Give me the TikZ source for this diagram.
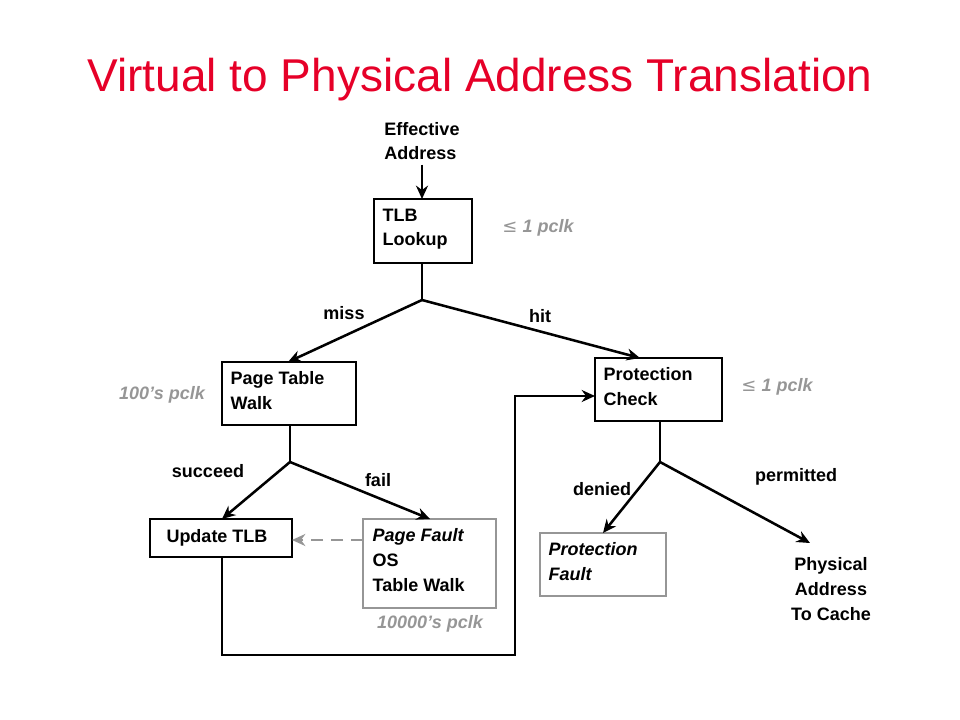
\documentclass[tikz,border=0pt]{standalone}
\usepackage{fontspec}
\setmainfont{Liberation Sans}
\newfontfamily\dv{DejaVu Sans}
\usetikzlibrary{arrows.meta}
\definecolor{tred}{RGB}{230,0,40}
\definecolor{gr}{RGB}{150,150,150}
\begin{document}
\begin{tikzpicture}[x=0.75pt,y=-0.75pt,
 box/.style={draw,line width=1.9pt,anchor=north west,inner sep=0pt},
 tx/.style={font=\bfseries\fontsize{13.5}{18.5}\selectfont,align=left},
 note/.style={font=\bfseries\itshape\fontsize{13.5}{18.5}\selectfont,text=gr},
 ln/.style={line width=1.9pt},
 ar/.style={ln,-{Stealth[length=10pt,width=9pt]}}]
\useasboundingbox (0,0) rectangle (960,720);
\node[text=tred,font=\fontsize{34.5}{40}\selectfont] (title) at (480,80) {Virtual to Physical Address Translation};
\node[tx] (ea) at (422,141) {Effective\\Address};
\draw[box] (374,199) rectangle (472,263);
\node[tx,anchor=north west] at (378,204) {TLB\\Lookup};
\coordinate (tlbt) at (422,199); \coordinate (tlbb) at (422,263);
\draw[box] (222,362) rectangle (356,425);
\node[tx,anchor=north west] at (226,367) {Page Table\\Walk};
\draw[box] (595,358) rectangle (722,421);
\node[tx,anchor=north west] at (599,363) {Protection\\Check};
\draw[box] (150,519) rectangle (292,557);
\node[tx] at (217,538) {Update TLB};
\draw[box,draw=gr] (363,519) rectangle (496,608);
\node[tx,anchor=north west] at (368,524) {\itshape Page Fault\\OS\\Table Walk};
\draw[box,draw=gr] (540,533) rectangle (666,596);
\node[tx,anchor=north west] at (544,538) {\itshape Protection\\\itshape Fault};
\node[tx,align=center] (pa) at (831,589) {Physical\\Address\\To Cache};
\coordinate (b1) at (422,300); \coordinate (b2) at (290,462); \coordinate (b3) at (660,462);
\draw[ar] (ea.south) -- (tlbt);
\draw[ln] (tlbb) -- (b1);
\draw[ar] (b1) -- (288,362);
\draw[ar] (b1) -- (640,358);
\draw[ln] (290,425) -- (b2);
\draw[ar] (b2) -- (222,519);
\draw[ar] (b2) -- (430,519);
\draw[ln] (660,421) -- (b3);
\draw[ar] (b3) -- (603,533);
\draw[ar] (b3) -- (810,543);
\draw[ar,draw=gr,dashed,dash pattern=on 9pt off 6pt] (363,540) -- (292,540);
\draw[ar] (222,557) -- (222,655) -- (515,655) -- (515,396) -- (595,396);
\node[tx] at (344,313) {miss};
\node[tx] at (540,316) {hit};
\node[tx] at (208,471) {succeed};
\node[tx] at (378,480) {fail};
\node[tx] at (602,489) {denied};
\node[tx] at (796,477) {permitted};
\node[note] at (538,228) {{\dv\upshape\mdseries ≤} 1 pclk};
\node[note] at (162,395) {100’s pclk};
\node[note] at (777,387) {{\dv\upshape\mdseries ≤} 1 pclk};
\node[note] at (430,624) {10000’s pclk};
\end{tikzpicture}
\end{document}
